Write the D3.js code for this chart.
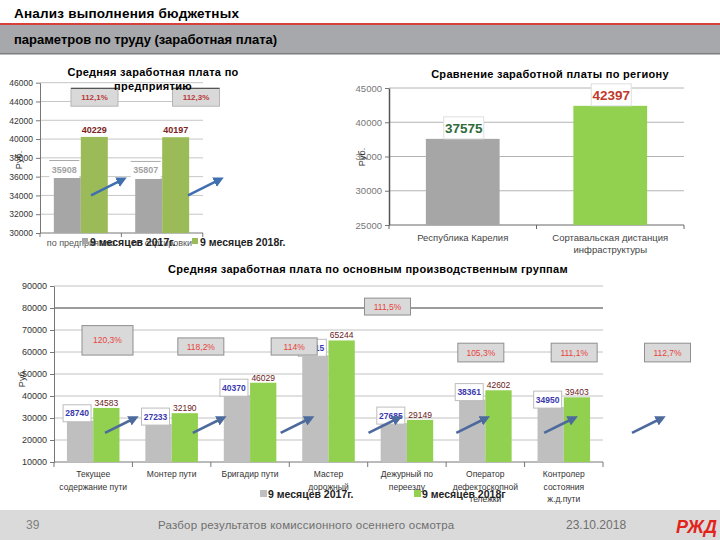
<!DOCTYPE html>
<html>
<head>
<meta charset="utf-8">
<script src="https://cdn.jsdelivr.net/npm/d3@7"></script>
<style>
  body { margin: 0; background: #fff; }
  svg { display: block; font-family: "Liberation Sans", Arial, sans-serif; }
</style>
</head>
<body>
<div id="chart"></div>
<script>
const series = ["9 месяцев 2017г.", "9 месяцев 2018г."];

// по предприятию
const firmCats = ["по предприятию", "по сортировки"];
const firm2017 = [35908, 35807];
const firm2018 = [40229, 40197];
const firmPct = ["112,1%", "112,3%"];
const firmTicks = [30000, 32000, 34000, 36000, 38000, 40000, 42000, 44000, 46000];

// по региону
const regionCats = ["Республика Карелия", "Сортавальская дистанция|инфраструктуры"];
const regionValues = [37575, 42397];
const regionTicks = [25000, 30000, 35000, 40000, 45000];

// по группам
const groupCats = ["Текущее|содержание пути", "Монтер пути", "Бригадир пути", "Мастер|дорожный",
  "Дежурный по|переезду", "Оператор|дефектоскопной|тележки", "Контролер|состояния|ж.д.пути"];
const group2017 = [28740, 27233, 40370, 58515, 27685, 38361, 34950];
const group2018 = [34583, 32190, 46029, 65244, 29149, 42602, 39403];
const groupPct = ["120,3%", "118,2%", "114%", "111,5%", "105,3%", "111,1%", "112,7%"];
const groupTicks = [10000, 20000, 30000, 40000, 50000, 60000, 70000, 80000, 90000];

const svg = d3.select("#chart").append("svg").attr("width", 720).attr("height", 540);

const defs = svg.append("defs");
defs.append("marker").attr("id", "head").attr("viewBox", "0 0 10 10")
  .attr("refX", 6).attr("refY", 5).attr("markerWidth", 4).attr("markerHeight", 4)
  .attr("orient", "auto")
  .append("path").attr("d", "M0,0L10,5L0,10z").attr("fill", "context-stroke");

// header
svg.append("rect").attr("x", 0).attr("y", 25).attr("width", 720).attr("height", 29).attr("fill", "#a7a8ab");
svg.append("rect").attr("x", 0).attr("y", 53).attr("width", 720).attr("height", 1.5).attr("fill", "#7d7e80");
svg.append("rect").attr("x", 0).attr("y", 23).attr("width", 720).attr("height", 2).attr("fill", "#d8413b");
svg.append("text").attr("x", 14).attr("y", 18).attr("font-size", 13.5).attr("font-weight", "bold")
  .attr("letter-spacing", 0.2).text("Анализ выполнения бюджетных");
svg.append("text").attr("x", 14).attr("y", 44).attr("font-size", 13).attr("font-weight", "bold")
  .text("параметров по труду (заработная плата)");

function styleAxis(g, size, color) {
  g.attr("font-family", null).attr("font-size", size);
  g.selectAll("text").attr("fill", color);
  g.selectAll("line").attr("stroke", "#777");
  g.select(".domain").attr("stroke", "#777");
}

function arrow(g, xa, ya, xb, yb, color) {
  g.append("line").attr("x1", xa).attr("y1", ya).attr("x2", xb).attr("y2", yb)
    .attr("stroke", color).attr("stroke-width", 2.6).attr("marker-end", "url(#head)");
}

function multiline(sel, text, lh) {
  text.split("|").forEach((t, i) => sel.append("tspan").attr("x", sel.attr("x")).attr("dy", i ? lh : 0).text(t));
}

// ---------- chart 1 ----------
{
  const g = svg.append("g");
  const y = d3.scaleLinear().domain([30000, 46000]).range([233, 82.7]);
  const x = d3.scaleBand().domain(firmCats).range([40, 203]).paddingInner(0.337).paddingOuter(0.17);
  const s = d3.scaleBand().domain(series).range([0, x.bandwidth()]);
  const pctX = d3.scalePoint().domain(firmCats).range([94.5, 196]);
  const arrX = d3.scalePoint().domain(firmCats).range([91, 188]);

  g.selectAll(".grid").data(firmTicks.slice(1)).join("line")
    .attr("x1", 40).attr("x2", 203).attr("y1", d => y(d)).attr("y2", d => y(d))
    .attr("stroke", "#c6c6c6");

  g.append("g").attr("transform", "translate(40,0)")
    .call(d3.axisLeft(y).tickValues(firmTicks).tickSize(4).tickSizeOuter(0).tickFormat(d3.format("d")))
    .call(a => styleAxis(a, 8.5, "#333"));

  const step = x.step();
  g.append("line").attr("x1", 40).attr("x2", 203).attr("y1", 233).attr("y2", 233).attr("stroke", "#777");
  g.selectAll(".xt").data(d3.range(firmCats.length + 1)).join("line")
    .attr("x1", i => 40 + i * step).attr("x2", i => 40 + i * step).attr("y1", 233).attr("y2", 237)
    .attr("stroke", "#777");

  const rows = firmCats.map((c, i) => ({ c, a: firm2017[i], b: firm2018[i], p: firmPct[i] }));

  g.selectAll(".b1").data(rows).join("rect")
    .attr("x", d => x(d.c) + s(series[0])).attr("width", s.bandwidth())
    .attr("y", d => y(d.a)).attr("height", d => y(30000) - y(d.a)).attr("fill", "#a6a6a6");
  g.selectAll(".b2").data(rows).join("rect")
    .attr("x", d => x(d.c) + s(series[1])).attr("width", s.bandwidth())
    .attr("y", d => y(d.b)).attr("height", d => y(30000) - y(d.b)).attr("fill", "#9bbb59");

  rows.forEach(d => {
    const cx = x(d.c) + s(series[0]) + s.bandwidth() / 2 - 3;
    g.append("rect").attr("x", cx - 15).attr("y", y(d.a) - 17).attr("width", 30).attr("height", 17.5)
      .attr("fill", "#fff");
    g.append("line").attr("x1", cx - 15).attr("x2", cx + 15).attr("y1", y(d.a) - 17).attr("y2", y(d.a) - 17)
      .attr("stroke", "#aaa");
    g.append("text").attr("x", cx).attr("y", y(d.a) - 5).attr("text-anchor", "middle")
      .attr("font-size", 9).attr("font-weight", "bold").attr("fill", "#a3a3a3").text(d.a);
    const gx = x(d.c) + s(series[1]) + s.bandwidth() / 2;
    g.append("text").attr("x", gx).attr("y", y(d.b) - 4).attr("text-anchor", "middle")
      .attr("font-size", 9).attr("font-weight", "bold").attr("fill", "#7a2222").text(d.b);

    const px = pctX(d.c);
    g.append("rect").attr("x", px - 23.5).attr("y", y(45400)).attr("width", 47).attr("height", y(43500) - y(45400))
      .attr("fill", "#d9d9d9").attr("stroke", "#b5b5b5");
    g.append("line").attr("x1", px - 23.5).attr("x2", px + 23.5).attr("y1", y(45400)).attr("y2", y(45400))
      .attr("stroke", "#555").attr("stroke-width", 1.2);
    g.append("text").attr("x", px).attr("y", (y(45400) + y(43500)) / 2 + 3).attr("text-anchor", "middle")
      .attr("font-size", 8).attr("font-weight", "bold").attr("fill", "#b83a3a").text(d.p);

    arrow(g, arrX(d.c), y(34000), arrX(d.c) + 32, y(35700), "#3f6fae");
  });

  g.append("text").attr("x", 153).attr("y", 76).attr("text-anchor", "middle").attr("font-size", 11)
    .attr("font-weight", "bold").attr("letter-spacing", 0.3).text("Средняя заработная плата по");
  g.append("text").attr("x", 153).attr("y", 90).attr("text-anchor", "middle").attr("font-size", 11)
    .attr("font-weight", "bold").attr("letter-spacing", 0.3).text("предприятию");

  g.append("text").attr("transform", "translate(22,160) rotate(-90)").attr("text-anchor", "middle")
    .attr("font-size", 9).attr("fill", "#333").text("Руб.");

  g.selectAll(".xl").data(firmCats).join("text")
    .attr("x", d => x(d) + x.bandwidth() / 2).attr("y", 246).attr("text-anchor", "middle")
    .attr("font-size", 9).attr("fill", "#555").text(d => d);

  const lg = [[82, "#a6a6a6"], [192, "#9bbb59"]];
  series.forEach((t, i) => {
    g.append("rect").attr("x", lg[i][0]).attr("y", 238).attr("width", 6).attr("height", 6).attr("fill", lg[i][1]);
    g.append("text").attr("x", lg[i][0] + 8).attr("y", 246).attr("font-size", 10.5)
      .attr("font-weight", "bold").attr("fill", "#222").text(t);
  });
}

// ---------- chart 2 ----------
{
  const g = svg.append("g");
  const y = d3.scaleLinear().domain([25000, 45000]).range([225, 88]);
  const x = d3.scaleBand().domain(regionCats).range([389, 684]).paddingInner(0.5).paddingOuter(0.25);

  g.selectAll(".grid").data(regionTicks.slice(1)).join("line")
    .attr("x1", 389).attr("x2", 684).attr("y1", d => y(d)).attr("y2", d => y(d)).attr("stroke", "#b4b4b4");

  g.append("g").attr("transform", "translate(389,0)")
    .call(d3.axisLeft(y).tickValues(regionTicks).tickSize(4).tickSizeOuter(0).tickFormat(d3.format("d")))
    .call(a => styleAxis(a, 9.5, "#777"));
  g.select(".domain").attr("stroke", "#555").attr("stroke-width", 1.5);

  g.append("line").attr("x1", 389).attr("x2", 684).attr("y1", 225).attr("y2", 225).attr("stroke", "#666");
  g.selectAll(".xt").data(d3.range(regionCats.length + 1)).join("line")
    .attr("x1", i => 389 + i * x.step()).attr("x2", i => 389 + i * x.step()).attr("y1", 225).attr("y2", 229)
    .attr("stroke", "#666");

  const fills = ["#a6a6a6", "#92d050"];
  const lab = ["#2f6b38", "#c0392b"];
  g.selectAll(".bar").data(regionCats).join("rect")
    .attr("x", d => x(d)).attr("width", x.bandwidth())
    .attr("y", (d, i) => y(regionValues[i])).attr("height", (d, i) => y(25000) - y(regionValues[i]))
    .attr("fill", (d, i) => fills[i]);

  regionCats.forEach((c, i) => {
    const cx = x(c) + x.bandwidth() / 2 + 1;
    const top = y(regionValues[i]);
    g.append("rect").attr("x", cx - 20).attr("y", top - 22).attr("width", 40).attr("height", 22)
      .attr("fill", "#fff").attr("stroke", "#dedede");
    g.append("text").attr("x", cx).attr("y", top - 6).attr("text-anchor", "middle").attr("font-size", 13.5)
      .attr("font-weight", "bold").attr("fill", lab[i]).text(regionValues[i]);
    const t = g.append("text").attr("x", x(c) + x.bandwidth() / 2).attr("y", 241).attr("text-anchor", "middle")
      .attr("font-size", 9.5).attr("fill", "#444");
    multiline(t, c, 12);
  });

  g.append("text").attr("x", 550).attr("y", 78).attr("text-anchor", "middle").attr("font-size", 11)
    .attr("font-weight", "bold").attr("letter-spacing", 0.3).text("Сравнение заработной платы по региону");
  g.append("text").attr("transform", "translate(365,157) rotate(-90)").attr("text-anchor", "middle")
    .attr("font-size", 9).attr("fill", "#333").text("Руб.");
}

// ---------- chart 3 ----------
{
  const g = svg.append("g");
  const y = d3.scaleLinear().domain([10000, 90000]).range([462, 286]);
  const x = d3.scaleBand().domain(groupCats).range([54, 603]).paddingInner(0.33).paddingOuter(0.165);
  const s = d3.scaleBand().domain(series).range([0, x.bandwidth()]);
  const pctX = d3.scalePoint().domain(groupCats).range([107.5, 667.5]);
  const arrX = d3.scalePoint().domain(groupCats).range([105, 632]);
  // percent box spans (in values)
  const spans = [[72000, 58600], [66400, 58600], [66400, 58600], [84500, 76800], [64000, 55500], [64000, 55500], [64000, 55500]];

  g.selectAll(".grid").data(groupTicks.slice(1)).join("line")
    .attr("x1", 54).attr("x2", 603).attr("y1", d => y(d)).attr("y2", d => y(d))
    .attr("stroke", d => d === 80000 ? "#9c9c9c" : "#c2c2c2")
    .attr("stroke-width", d => d === 80000 ? 2 : 1);

  g.append("g").attr("transform", "translate(54,0)")
    .call(d3.axisLeft(y).tickValues(groupTicks).tickSize(4).tickSizeOuter(0).tickFormat(d3.format("d")))
    .call(a => styleAxis(a, 9, "#333"));

  g.append("line").attr("x1", 54).attr("x2", 603).attr("y1", 462).attr("y2", 462).attr("stroke", "#777");
  g.selectAll(".xt").data(d3.range(groupCats.length + 1)).join("line")
    .attr("x1", i => 54 + i * x.step()).attr("x2", i => 54 + i * x.step()).attr("y1", 462).attr("y2", 467)
    .attr("stroke", "#777");

  const rows = groupCats.map((c, i) => ({ c, i, a: group2017[i], b: group2018[i], p: groupPct[i] }));

  g.selectAll(".b1").data(rows).join("rect")
    .attr("x", d => x(d.c) + s(series[0])).attr("width", s.bandwidth())
    .attr("y", d => y(d.a)).attr("height", d => y(10000) - y(d.a)).attr("fill", "#bfbfbf");
  g.selectAll(".b2").data(rows).join("rect")
    .attr("x", d => x(d.c) + s(series[1])).attr("width", s.bandwidth())
    .attr("y", d => y(d.b)).attr("height", d => y(10000) - y(d.b)).attr("fill", "#92d050");

  rows.forEach(d => {
    const cx = x(d.c) + s(series[0]) + s.bandwidth() / 2 - 3;
    g.append("rect").attr("x", cx - 14).attr("y", y(d.a) - 16).attr("width", 28).attr("height", 17)
      .attr("fill", "#fff").attr("stroke", "#bdbdbd");
    g.append("text").attr("x", cx).attr("y", y(d.a) - 4.5).attr("text-anchor", "middle")
      .attr("font-size", 8.5).attr("font-weight", "bold").attr("fill", "#3a3aae").text(d.a);
    const gx = x(d.c) + s(series[1]) + s.bandwidth() / 2;
    g.append("text").attr("x", gx).attr("y", y(d.b) - 2).attr("text-anchor", "middle")
      .attr("font-size", 8.5).attr("fill", "#6b1a1a").text(d.b);

    const t = g.append("text").attr("x", x(d.c) + x.bandwidth() / 2).attr("y", 477).attr("text-anchor", "middle")
      .attr("font-size", 8.5).attr("fill", "#333");
    multiline(t, d.c, 12.5);
  });

  rows.forEach(d => {
    const px = pctX(d.c);
    const w = d.i === 0 ? 51 : 46;
    const [t, b] = spans[d.i];
    g.append("rect").attr("x", px - w / 2).attr("y", y(t)).attr("width", w).attr("height", y(b) - y(t))
      .attr("fill", "#d9d9d9").attr("stroke", "#8f8f8f");
    g.append("text").attr("x", px).attr("y", (y(t) + y(b)) / 2 + 3).attr("text-anchor", "middle")
      .attr("font-size", 8.5).attr("fill", "#e8453c").text(d.p);

    arrow(g, arrX(d.c), y(23200), arrX(d.c) + 30, y(30000), "#4d6a9c");
  });

  g.append("text").attr("x", 368).attr("y", 273).attr("text-anchor", "middle").attr("font-size", 11)
    .attr("font-weight", "bold").attr("letter-spacing", 0.3)
    .text("Средняя заработная плата по основным производственным группам");
  g.append("text").attr("transform", "translate(25,378) rotate(-90)").attr("text-anchor", "middle")
    .attr("font-size", 9).attr("fill", "#333").text("Руб.");

  const lg = [[260, "#bfbfbf"], [414, "#92d050"]];
  series.forEach((t, i) => {
    g.append("rect").attr("x", lg[i][0]).attr("y", 490).attr("width", 7).attr("height", 7).attr("fill", lg[i][1]);
    g.append("text").attr("x", lg[i][0] + 8).attr("y", 498).attr("font-size", 10.5)
      .attr("font-weight", "bold").attr("fill", "#222").text(i ? t.replace(/\.$/, "") : t);
  });
}

// footer
svg.append("rect").attr("x", 0).attr("y", 510).attr("width", 720).attr("height", 30).attr("fill", "#dadada");
svg.append("text").attr("x", 26).attr("y", 529).attr("font-size", 12).attr("fill", "#7f7f7f").text("39");
svg.append("text").attr("x", 158).attr("y", 529).attr("font-size", 11.5).attr("fill", "#6f6f6f")
  .attr("letter-spacing", 0.2).text("Разбор результатов комиссионного осеннего осмотра");
svg.append("text").attr("x", 566).attr("y", 529).attr("font-size", 12).attr("fill", "#6f6f6f").text("23.10.2018");
svg.append("text").attr("x", 676).attr("y", 533).attr("font-size", 18).attr("font-weight", "bold")
  .attr("font-style", "italic").attr("fill", "#e2231a").text("РЖД");
</script>
</body>
</html>
